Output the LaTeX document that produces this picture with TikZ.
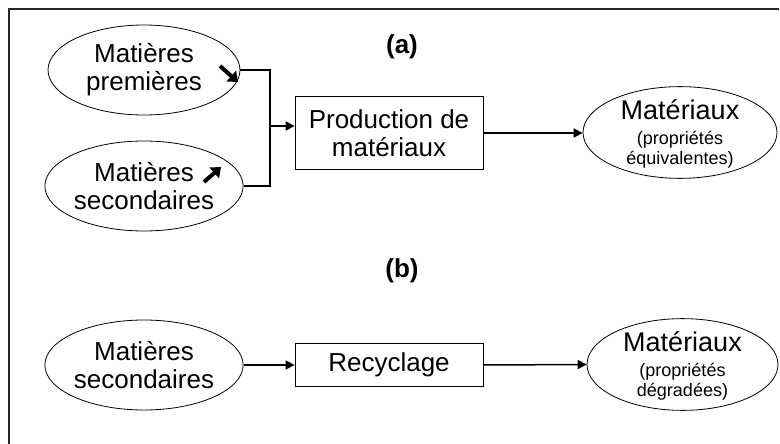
\documentclass[tikz,border=0pt]{standalone}
\usepackage{fontspec}
\setmainfont{Liberation Sans}
\usetikzlibrary{shapes.geometric,arrows.meta}

\tikzset{
  oval/.style={ellipse,draw,line width=0.8pt,minimum width=192pt,minimum height=90pt,inner sep=0pt,align=center},
  procbox/.style={rectangle,draw,line width=0.8pt,minimum width=188pt,inner sep=0pt,align=center,font=\fontsize{26}{28}\selectfont},
  flow/.style={line width=2pt,-{Triangle[length=9pt,width=9pt]}},
  bigtxt/.style={font=\fontsize{26}{28}\selectfont},
  smalltxt/.style={font=\fontsize{18}{20}\selectfont,text depth=0pt},
  tag/.style={font=\fontsize{26}{30}\selectfont\bfseries},
  hint/.style={line width=4pt,-{Triangle[length=9pt,width=14pt]}}
}
\newcommand{\bigline}[1]{{\fontsize{27}{30}\selectfont #1}}

\begin{document}
\begin{tikzpicture}[x=1pt,y=-1pt]
\useasboundingbox (0,0) rectangle (780,444);
\draw[line width=1.5pt,black!85] (779,9) -- (9,9) -- (9,444);

\node[tag] (lblA) at (402,47) {(a)};
\node[tag] (lblB) at (402,271) {(b)};

\node[oval,bigtxt] (prem) at (144,70) {Matières\\premières};
\node[oval,bigtxt] (sec) at (144,186) {Matières\\secondaires};
\node[procbox,minimum height=73pt] (prod) at (389,133) {Production de\\matériaux};
\node[oval,smalltxt,minimum width=194pt,minimum height=89pt] (matA) at (680,132.5)
  {\bigline{Matériaux}\\[5pt](propriétés\\équivalentes)};
\coordinate (dn0) at (220,66);
\coordinate (dn1) at (238,82);
\coordinate (up0) at (204,182);
\coordinate (up1) at (221,167);
\draw[hint] (dn0) -- (dn1);
\draw[hint] (up0) -- (up1);

\coordinate (jn) at (270,126);
\draw[line width=2pt] (prem.east) -| (jn) |- (sec.east);
\draw[flow] (jn) -- (jn -| prod.west);
\draw[flow] (prod.east) -- (prod.east -| matA.west);

\node[oval,bigtxt] (secB) at (144,365) {Matières\\secondaires};
\node[procbox,minimum height=43pt] (rec) at (389,365) {Recyclage};
\node[oval,smalltxt,minimum width=191pt,minimum height=91pt] (matB) at (682.5,364.5)
  {\bigline{Matériaux}\\[5pt](propriétés\\dégradées)};

\draw[flow,line width=1.5pt] (secB.east) -- (rec.west);
\draw[flow,line width=1.5pt] (rec.east) -- (matB.west);
\end{tikzpicture}
\end{document}
